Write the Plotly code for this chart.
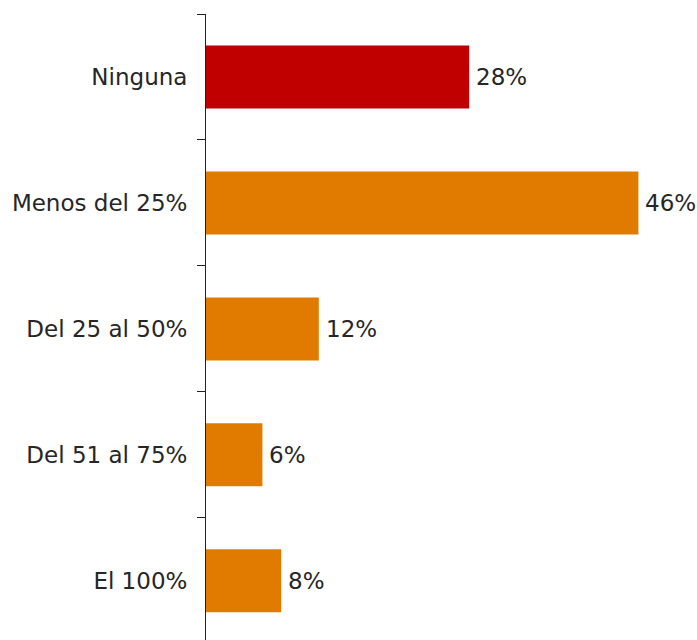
import plotly.graph_objects as go

categories = ["Ninguna", "Menos del 25%", "Del 25 al 50%", "Del 51 al 75%", "El 100%"]
values = [0.28, 0.46, 0.12, 0.06, 0.08]
labels = ["28%", "46%", "12%", "6%", "8%"]
colors = ["#C00000", "#E07B00", "#E07B00", "#E07B00", "#E07B00"]

FONT = "DejaVu Sans"
FS = 23
TXT = "#262626"

fig = go.Figure()
fig.add_trace(go.Bar(
    y=categories, x=values, orientation="h",
    marker=dict(color=colors, line=dict(width=0)),
    width=0.5, hoverinfo="skip",
))
for c, v, t in zip(categories, values, labels):
    fig.add_annotation(x=v, y=c, text=t, showarrow=False, xanchor="left",
                       xshift=5, font=dict(family=FONT, size=FS, color=TXT))

fig.update_layout(
    width=697, height=640,
    margin=dict(l=206, r=21, t=14, b=0),
    plot_bgcolor="white", paper_bgcolor="white",
    showlegend=False,
    font=dict(family=FONT, size=FS, color=TXT),
    xaxis=dict(range=[0, 0.5], showgrid=False, zeroline=False, showline=False,
               showticklabels=False, ticks="", fixedrange=True),
    yaxis=dict(categoryorder="array", categoryarray=categories,
               range=[4.47, -0.5], showgrid=False, zeroline=False,
               showline=True, linecolor="#222222", linewidth=1,
               ticks="outside", tickson="boundaries", ticklen=8,
               tickcolor="#222222", tickwidth=1, ticklabelstandoff=13,
               fixedrange=True,
               tickfont=dict(family=FONT, size=FS, color=TXT)),
)
fig.write_html(
    "out.html",
    config={"displayModeBar": False, "staticPlot": True},
    post_script="document.body.style.margin='0';document.body.style.overflow='hidden';",
)
